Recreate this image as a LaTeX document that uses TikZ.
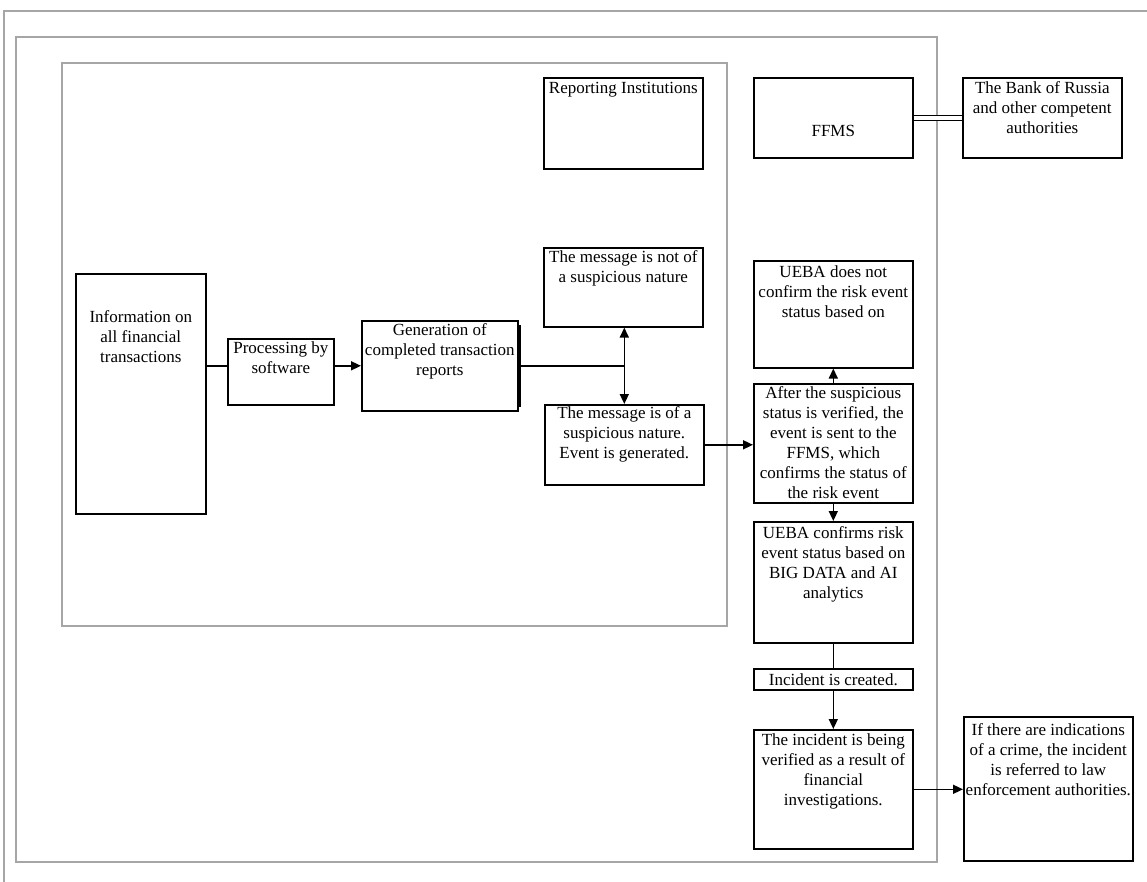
\documentclass[tikz,border=0pt]{standalone}
\usepackage{fontspec}
\setmainfont{Liberation Serif}
\usetikzlibrary{arrows.meta}

\begin{document}
\begin{tikzpicture}[x=1pt, y=-1pt, line width=1.6pt,
    box/.style 2 args={draw, minimum width=#1, minimum height=#2, anchor=north west, inner sep=0pt},
    txt/.style={anchor=north, align=center, inner sep=0pt, font=\fontsize{17}{20}\selectfont},
    frame/.style={draw=black!35, line width=1.8pt},
    >={Triangle[length=10pt,width=9pt]}]
    \useasboundingbox (0,0) rectangle (1147,882);
    \draw[frame] (1147,11) -- (4,11) -- (4,882);
    \draw[frame] (16,37) rectangle (937,862);
    \draw[frame] (62,63) rectangle (727,626);

    \node[box={159}{91}] (ri) at (543,77) {};
    \node[box={159}{80}] (ffms) at (753,77) {};
    \node[box={159}{80}] (bank) at (962,77) {};
    \node[box={130}{240}] (info) at (75,273) {};
    \node[box={106}{66}] (proc) at (227,338) {};
    \node[box={156}{90}] (gen) at (361,320) {};
    \node[box={159}{79}] (notsus) at (543,247) {};
    \node[box={159}{80}] (sus) at (544,404) {};
    \node[box={159}{107}] (noconf) at (753,260) {};
    \node[box={159}{119}] (after) at (753,383) {};
    \node[box={159}{121}] (conf) at (753,521) {};
    \node[box={159}{21}] (inc) at (753,668) {};
    \node[box={159}{119}] (verif) at (753,729) {};
    \node[box={169}{144}] (crime) at (963,716) {};

    \node[txt] (ri-t) at ([yshift=-4pt]ri.north) {Reporting Institutions};
    \node[txt] (ffms-t) at ([yshift=-47pt]ffms.north) {FFMS};
    \node[txt] (bank-t) at ([yshift=-4pt]bank.north) {The Bank of Russia\\and other competent\\authorities};
    \node[txt] (info-t) at ([yshift=-37pt]info.north) {Information on\\all financial\\transactions};
    \node[txt] (proc-t) at ([yshift=-3pt]proc.north) {Processing by\\software};
    \node[txt] (gen-t) at ([yshift=-3pt]gen.north) {Generation of\\completed transaction\\reports};
    \node[txt] (notsus-t) at ([yshift=-3pt]notsus.north) {The message is not of\\a suspicious nature};
    \node[txt] (sus-t) at ([yshift=-2pt]sus.north) {The message is of a\\suspicious nature.\\Event is generated.};
    \node[txt] (noconf-t) at ([yshift=-5pt]noconf.north) {UEBA does not\\confirm the risk event\\status based on};
    \node[txt] (after-t) at ([yshift=-3pt]after.north) {After the suspicious\\status is verified, the\\event is sent to the\\FFMS, which\\confirms the status of\\the risk event};
    \node[txt] (conf-t) at ([yshift=-5pt]conf.north) {UEBA confirms risk\\event status based on\\BIG DATA and AI\\analytics};
    \node[txt, anchor=center] (inc-t) at (inc.center) {Incident is created.};
    \node[txt] (verif-t) at ([yshift=-4pt]verif.north) {The incident is being\\verified as a result of\\financial\\investigations.};
    \node[txt] (crime-t) at ([yshift=-7pt]crime.north) {If there are indications\\of a crime, the incident\\is referred to law\\enforcement authorities.};

    \coordinate (split) at (gen.east -| sus.north);
    \draw (info.east |- gen.west) -- (proc.west |- gen.west);
    \draw[->] (proc.east |- gen.west) -- (gen.west);
    \draw[line width=1.4pt] ([xshift=1.3pt,yshift=-5pt]gen.north east) -- ([xshift=1.3pt,yshift=5pt]gen.south east);
    \draw (gen.east) -- (split);
    \draw[->] (split) -- (split |- notsus.south);
    \draw[->] (split) -- (sus.north);
    \draw[->] (sus.east) -- (sus.east -| after.west);
    \draw[->] (after.north) -- (noconf.south);
    \draw[->] (after.south) -- (conf.north);
    \draw (conf.south) -- (inc.north);
    \draw[->] (inc.south) -- (verif.north);
    \draw[->] (verif.east) -- (verif.east -| crime.west);
    \draw[double, double distance=3.5pt, line width=1pt] (ffms.east) -- (bank.west);
\end{tikzpicture}
\end{document}
